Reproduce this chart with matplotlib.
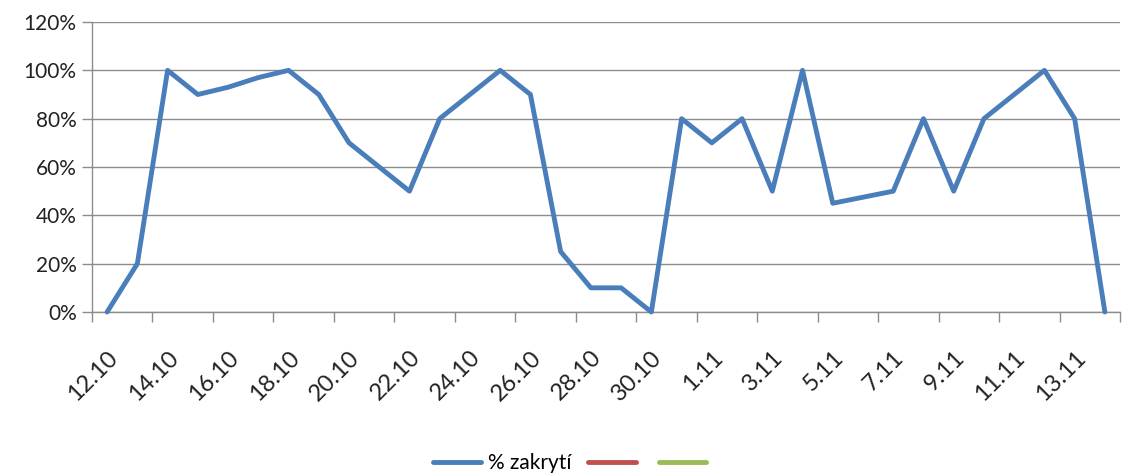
import matplotlib
matplotlib.use("Agg")
import matplotlib.pyplot as plt
from matplotlib.lines import Line2D

# daily dates 12.10 - 14.11
dates = [f"{d}.10" for d in range(12, 32)] + [f"{d}.11" for d in range(1, 15)]
# share covered, percent
zakryti = [0, 20, 100, 90, 93, 97, 100, 90, 70, 60,
           50, 80, 90, 100, 90, 25, 10, 10, 0, 80,
           70, 80, 50, 100, 45, 47.5, 50, 80, 50, 80,
           90, 100, 80, 0]
y_ticks = [0, 20, 40, 60, 80, 100, 120]

BLUE = "#4A7EBB"
RED = "#C0504D"
GREEN = "#9BBB59"
GRID = "#8C8C8C"

plt.rcParams["font.family"] = ["Lato", "DejaVu Sans"]

fig = plt.figure(figsize=(11.28, 4.76), dpi=100)
ax = fig.add_axes([92 / 1128, 1 - 312 / 476, (1120 - 92) / 1128, (312 - 22) / 476])

x = list(range(len(dates)))
ax.plot(x, zakryti, color=BLUE, lw=3.5, solid_joinstyle="round", solid_capstyle="round",
        zorder=3, clip_on=False)

ax.set_xlim(-0.5, len(dates) - 0.5)
ax.set_ylim(0, 120)
ax.set_yticks(y_ticks)
ax.set_yticklabels([f"{v}%" for v in y_ticks], fontsize=15, color="#222222")
ax.yaxis.grid(True, color=GRID, lw=1.0)
ax.set_axisbelow(True)

# category ticks between every second day, labels on the day itself
ax.set_xticks([i - 0.5 for i in range(0, len(dates) + 1, 2)])
ax.set_xticklabels([])
ax.set_xticks(x[::2], minor=True)
ax.set_xticklabels(dates[::2], minor=True, rotation=45, ha="right",
                   rotation_mode="anchor", fontsize=17, color="#222222")
ax.tick_params(axis="x", which="minor", length=0, pad=25)
ax.tick_params(axis="x", which="major", length=7, color=GRID, width=1)
ax.tick_params(axis="y", length=7, color=GRID, width=1, pad=4)

for side in ("top", "right"):
    ax.spines[side].set_visible(False)
for side in ("left", "bottom"):
    ax.spines[side].set_color(GRID)
    ax.spines[side].set_linewidth(1.0)

handles = [Line2D([], [], color=BLUE, lw=3.5, solid_capstyle="round"),
           Line2D([], [], color=RED, lw=3.5, solid_capstyle="round"),
           Line2D([], [], color=GREEN, lw=3.5, solid_capstyle="round")]
fig.legend(handles, ["% zakrytí", "", ""], loc="center", bbox_to_anchor=(0.508, 1 - 463 / 476),
           ncol=3, frameon=False, fontsize=15, handlelength=2.3, handletextpad=0.3,
           columnspacing=0.8)

fig.savefig("out.png", dpi=100)
